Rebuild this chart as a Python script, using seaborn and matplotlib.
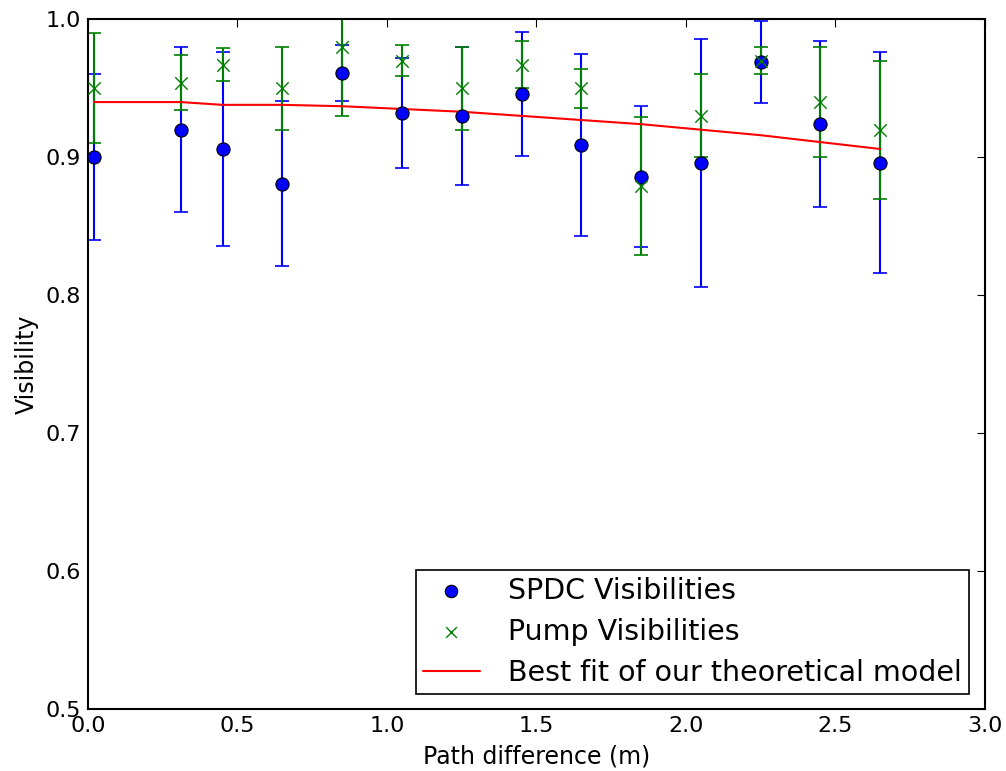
import matplotlib
matplotlib.use("Agg")
import matplotlib.pyplot as plt
import seaborn as sns
import numpy as np
import pandas as pd

path_diff = [0.02, 0.31, 0.45, 0.65, 0.85, 1.05, 1.25, 1.45, 1.65, 1.85, 2.05, 2.25, 2.45, 2.65]
spdc_vis = [0.900, 0.920, 0.906, 0.881, 0.961, 0.932, 0.930, 0.946, 0.909, 0.886, 0.896, 0.969, 0.924, 0.896]
spdc_err = [0.060, 0.060, 0.070, 0.060, 0.020, 0.040, 0.050, 0.045, 0.066, 0.051, 0.090, 0.030, 0.060, 0.080]
pump_vis = [0.950, 0.954, 0.967, 0.950, 0.980, 0.970, 0.950, 0.967, 0.950, 0.879, 0.930, 0.970, 0.940, 0.920]
pump_err = [0.040, 0.020, 0.012, 0.030, 0.050, 0.011, 0.030, 0.017, 0.014, 0.050, 0.030, 0.010, 0.040, 0.050]
fit_vis = [0.940, 0.940, 0.938, 0.938, 0.937, 0.935, 0.933, 0.930, 0.927, 0.924, 0.920, 0.916, 0.911, 0.906]

df = pd.DataFrame({"x": path_diff, "spdc": spdc_vis, "pump": pump_vis, "fit": fit_vis})

sns.set_style("white")
plt.rcParams['font.family'] = ['DejaVu Sans']
plt.rcParams['text.color'] = 'k'
plt.rcParams['axes.labelcolor'] = 'k'
plt.rcParams['xtick.color'] = 'k'
plt.rcParams['ytick.color'] = 'k'

fig = plt.figure(figsize=(10.06, 7.71), dpi=100)
ax = fig.add_axes([0.0875, 0.080, 0.8915, 0.895])

ax.errorbar(path_diff, spdc_vis, yerr=spdc_err, fmt='none', ecolor='b', elinewidth=1.5,
            capsize=5, capthick=1.2, zorder=2)
ax.errorbar(path_diff, pump_vis, yerr=pump_err, fmt='none', ecolor='g', elinewidth=1.5,
            capsize=5, capthick=1.2, zorder=2.1)

sns.scatterplot(data=df, x="x", y="spdc", ax=ax, color='b', marker='o', s=90,
                edgecolor='k', linewidth=0.8, zorder=3, label="SPDC Visibilities")
sns.scatterplot(data=df, x="x", y="pump", ax=ax, color='g', marker='x', s=80,
                linewidth=1, zorder=4, label="Pump Visibilities")
sns.lineplot(data=df, x="x", y="fit", ax=ax, color='r', linewidth=1.5, zorder=2.5,
             label="Best fit of our theoretical model")

ax.set_xlim(0, 3.0)
ax.set_ylim(0.5, 1.0)
xt = np.arange(0, 3.01, 0.5)
yt = np.arange(0.5, 1.01, 0.1)
ax.set_xticks(xt)
ax.set_yticks(yt)
ax.set_xticklabels([f"{v:.1f}" for v in xt])
ax.set_yticklabels([f"{v:.1f}" for v in yt])
ax.tick_params(axis='both', which='major', labelsize=16, direction='in', top=True, right=True,
               length=6, width=0.8, pad=5, colors='k')
for s in ax.spines.values():
    s.set_visible(True)
    s.set_color('k')
    s.set_linewidth(1.5)
ax.set_xlabel("Path difference (m)", fontsize=17, labelpad=6)
ax.set_ylabel("Visibility", fontsize=17, labelpad=5)

leg = ax.legend(loc='lower right', fontsize=20.5, frameon=True, fancybox=False,
                edgecolor='k', framealpha=1, borderaxespad=0.55, handlelength=2.0,
                handletextpad=1.0, labelspacing=0.45, borderpad=0.25)
leg.get_frame().set_linewidth(1.2)
handles = leg.legend_handles
handles[0].set_sizes([80])
handles[1].set_sizes([60])

fig.savefig("out.png", dpi=100)
